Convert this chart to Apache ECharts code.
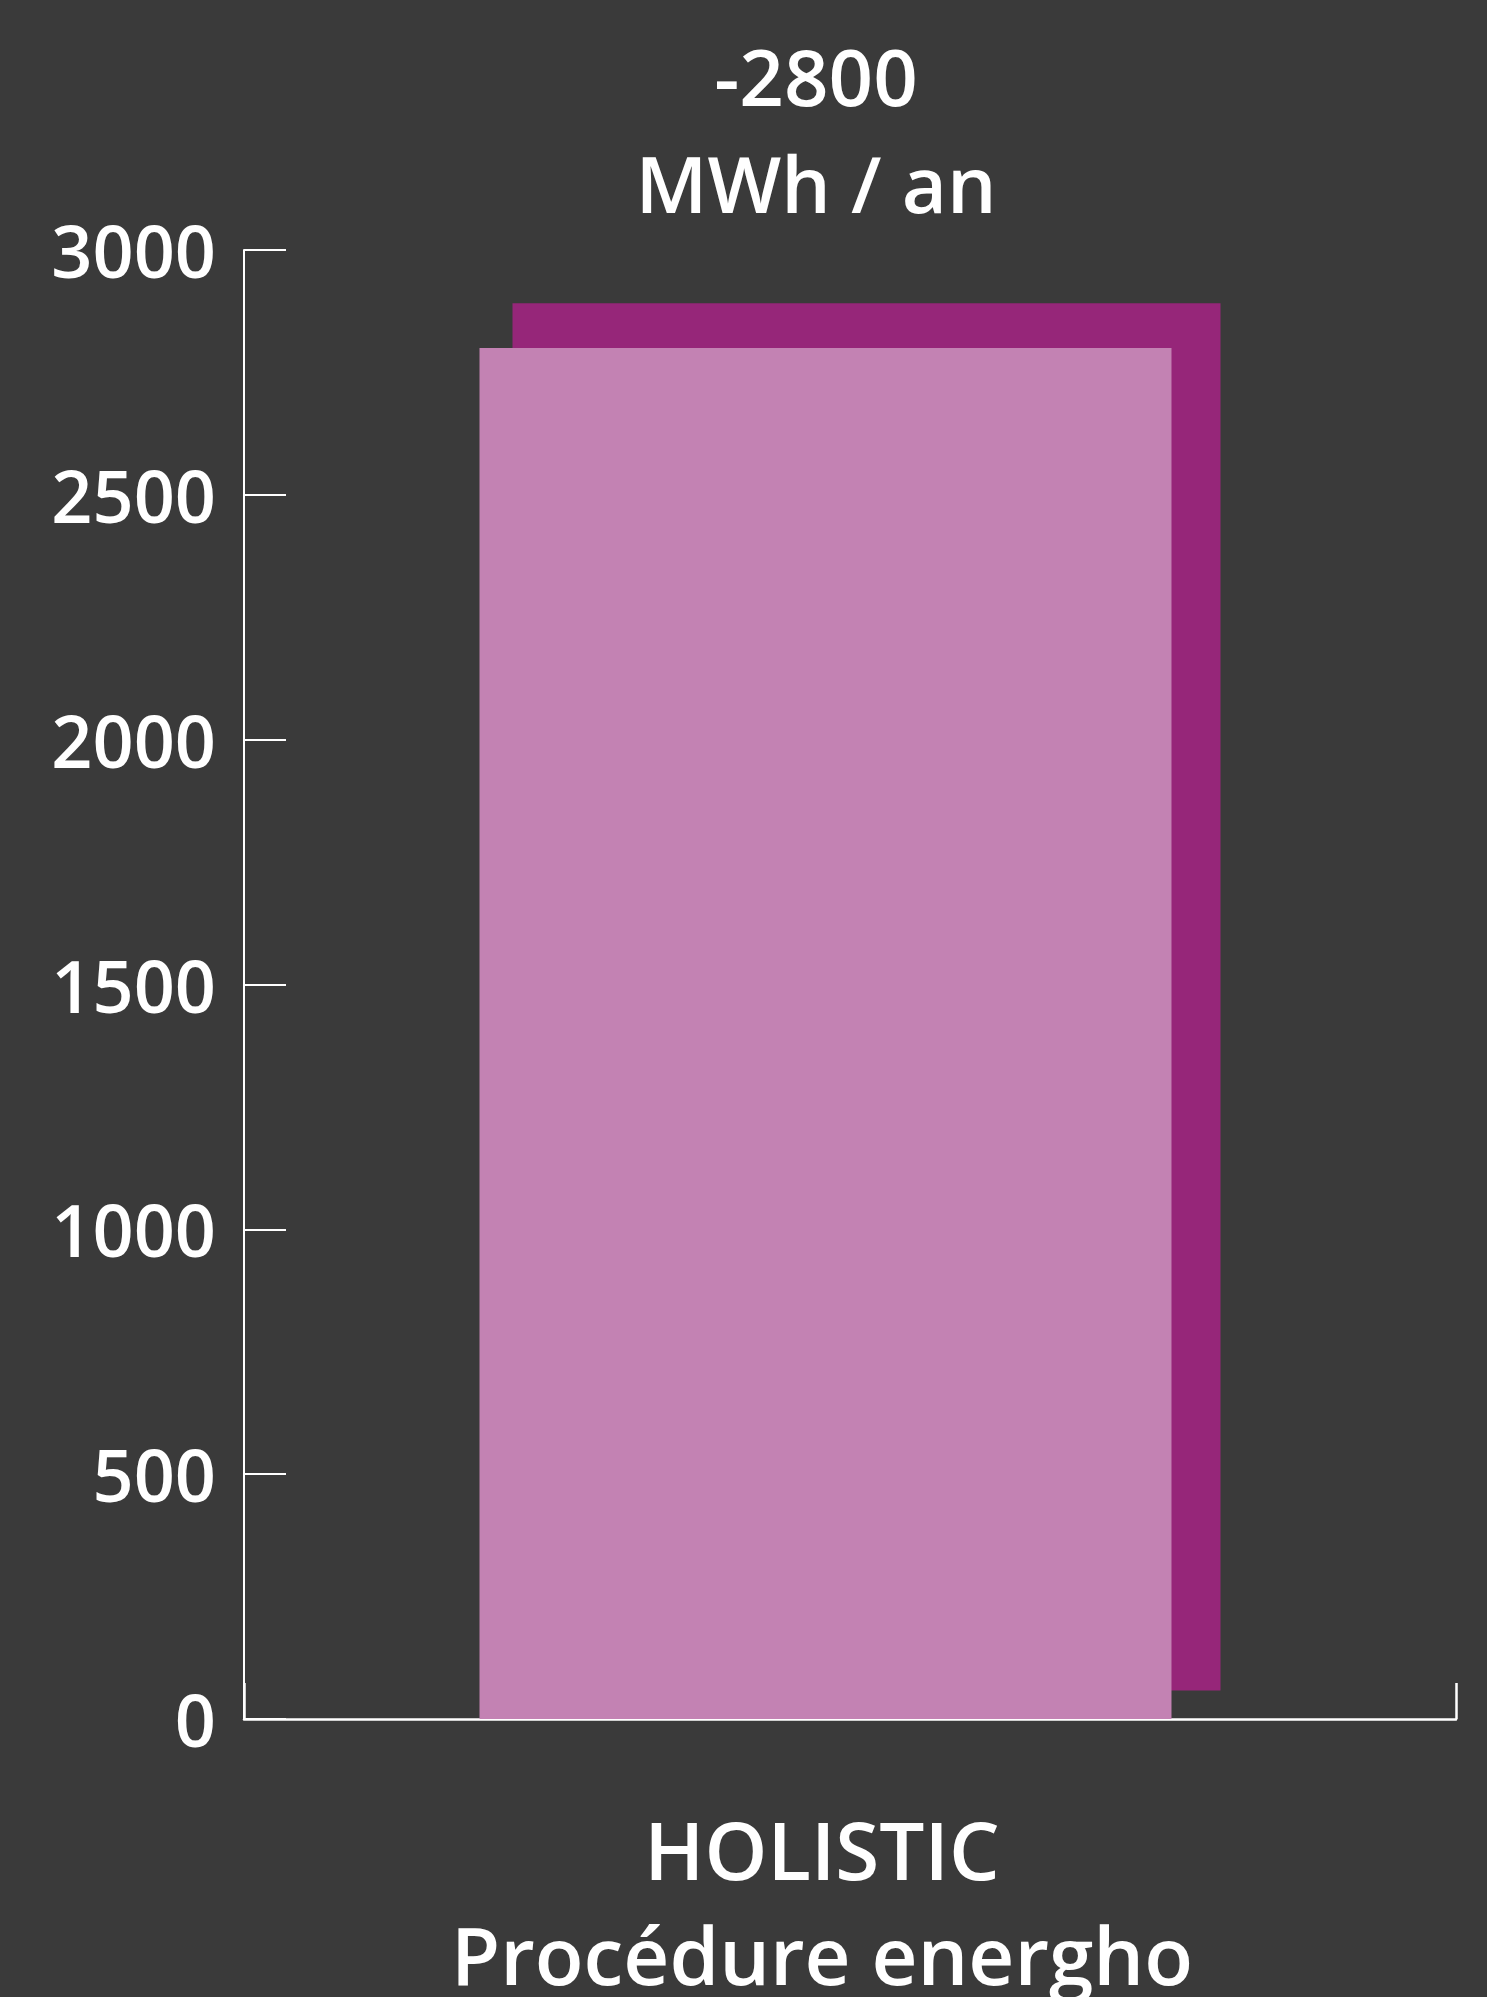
<!DOCTYPE html>
<html>
<head>
<meta charset="utf-8">
<script src="https://cdn.jsdelivr.net/npm/echarts@6/dist/echarts.min.js"></script>
<style>
html,body{margin:0;padding:0;background:#3a3a3a;overflow:hidden;}
#chart{width:1487px;height:1997px;}
</style>
</head>
<body>
<div id="chart"></div>
<script>
// ---- data ----
const categories = ['HOLISTIC\nProcédure energho'];
const savingValues = [2800];
const shadowBase = [58];
const shadowTop = [2891];
const titleLines = ['-2800', 'MWh / an'];
const yMin = 0, yMax = 3000, yInterval = 500;

const shadowHeight = shadowTop.map((v, i) => v - shadowBase[i]);

const FONT = '"Open Sans", "Noto Sans", sans-serif';
const chart = echarts.init(document.getElementById('chart'), null, {renderer: 'canvas'});
chart.setOption({
  backgroundColor: '#3a3a3a',
  animation: false,
  title: {
    text: titleLines.join('\n'),
    left: 816,
    top: 30,
    textAlign: 'center',
    padding: 0,
    textStyle: {color: '#ffffff', fontSize: 78, fontWeight: 600, lineHeight: 107, fontFamily: FONT}
  },
  grid: {left: 244, right: 31, top: 250, bottom: 278, containLabel: false, outerBoundsMode: 'none'},
  xAxis: {
    type: 'category',
    data: categories,
    boundaryGap: true,
    axisLine: {show: true, lineStyle: {color: '#ffffff', width: 2.5}},
    axisTick: {show: true, inside: true, length: 36, lineStyle: {color: '#ffffff', width: 2.5}},
    axisLabel: {color: '#ffffff', fontSize: 80, fontWeight: 600, lineHeight: 105, margin: 86,
      padding: [0, 56, 0, 0], fontFamily: FONT},
    splitLine: {show: false}
  },
  yAxis: {
    type: 'value',
    min: yMin, max: yMax, interval: yInterval,
    axisLine: {show: true, lineStyle: {color: '#ffffff', width: 2}},
    axisTick: {show: true, inside: true, length: 42, lineStyle: {color: '#ffffff', width: 2}},
    axisLabel: {color: '#ffffff', fontSize: 72, fontWeight: 600, margin: 28, fontFamily: FONT,
      verticalAlign: 'top', lineHeight: 15, formatter: (v) => String(v)},
    splitLine: {show: false}
  },
  series: [
    {
      name: 'saving', type: 'bar', data: savingValues, barWidth: 692, barGap: '-95.23%', z: 3,
      itemStyle: {color: '#c382b3'}
    },
    {
      name: 'shadowBase', type: 'bar', stack: 'shadow', data: shadowBase, barWidth: 708, barGap: '-95.23%', z: 2,
      itemStyle: {color: 'rgba(0,0,0,0)'}, silent: true
    },
    {
      name: 'shadow', type: 'bar', stack: 'shadow', data: shadowHeight, barWidth: 708, barGap: '-95.23%', z: 2,
      itemStyle: {color: '#962679'}
    }
  ]
});
</script>
</body>
</html>
